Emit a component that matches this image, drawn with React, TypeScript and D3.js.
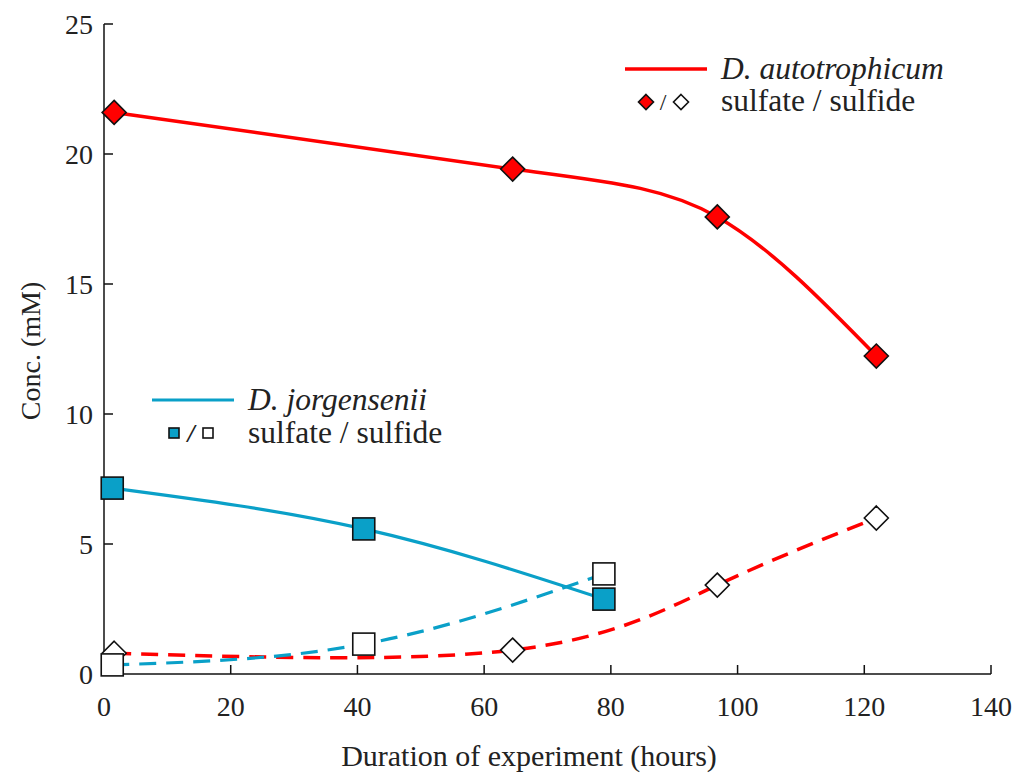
import React from "react";
import * as d3 from "d3";

const xTicks = [0, 20, 40, 60, 80, 100, 120, 140];
const yTicks = [0, 5, 10, 15, 20, 25];

const autoHours = [1.6, 64.5, 96.8, 121.9];
const autoSulfate = [21.6, 19.42, 17.58, 12.23];
const autoSulfide = [0.8, 0.92, 3.42, 6.0];

const jorgHours = [1.3, 41, 78.9];
const jorgSulfate = [7.15, 5.58, 2.88];
const jorgSulfide = [0.35, 1.15, 3.85];

const RED = "#ff0000";
const BLUE = "#0aa0c8";
const FONT = "'Liberation Serif', 'Times New Roman', serif";

export default function App() {
  const x = d3.scaleLinear().domain([0, 140]).range([104, 991]);
  const y = d3.scaleLinear().domain([0, 25]).range([674, 24]);
  const line = d3
    .line<[number, number]>()
    .x((d) => x(d[0]))
    .y((d) => y(d[1]))
    .curve(d3.curveNatural);
  const zip = (a: number[], b: number[]) => a.map((v, i) => [v, b[i]] as [number, number]);

  const diamond = (cx: number, cy: number, r: number, fill: string, key: string) => (
    <path
      key={key}
      d={`M${cx},${cy - r}L${cx + r},${cy}L${cx},${cy + r}L${cx - r},${cy}Z`}
      fill={fill}
      stroke="#111"
      strokeWidth={1.6}
    />
  );
  const square = (cx: number, cy: number, h: number, fill: string, key: string) => (
    <rect
      key={key}
      x={cx - h}
      y={cy - h}
      width={2 * h}
      height={2 * h}
      fill={fill}
      stroke="#111"
      strokeWidth={1.6}
    />
  );

  return (
    <svg
      width={1024}
      height={776}
      style={{ position: "absolute", left: 0, top: 0, background: "#fff" }}
      fontFamily={FONT}
    >
      {/* axes */}
      <line x1={x(0)} x2={x(0)} y1={y(25)} y2={y(0)} stroke="#111" strokeWidth={1.5} />
      <line x1={x(0)} x2={x(140)} y1={y(0)} y2={y(0)} stroke="#111" strokeWidth={1.5} />
      {yTicks.map((t) => (
        <g key={"yt" + t}>
          <line x1={x(0)} x2={x(0) + 9} y1={y(t)} y2={y(t)} stroke="#111" strokeWidth={1.5} />
          <text x={x(0) - 11} y={y(t)} dy="0.34em" textAnchor="end" fontSize={28} fill="#222">
            {t}
          </text>
        </g>
      ))}
      {xTicks.map((t) => (
        <g key={"xt" + t}>
          <line x1={x(t)} x2={x(t)} y1={y(0)} y2={y(0) - 9} stroke="#111" strokeWidth={1.5} />
          <text x={x(t)} y={y(0) + 42} textAnchor="middle" fontSize={28} fill="#222">
            {t}
          </text>
        </g>
      ))}
      <text
        transform={`translate(30,${351}) rotate(-90)`}
        textAnchor="middle"
        fontSize={28}
        fill="#222"
        dy="0.35em"
      >
        Conc. (mM)
      </text>
      <text x={529} y={766} textAnchor="middle" fontSize={30} fill="#222">
        Duration of experiment (hours)
      </text>

      {/* lines */}
      <path d={line(zip(autoHours, autoSulfate)) || ""} fill="none" stroke={RED} strokeWidth={3.5} />
      <path
        d={line(zip(autoHours, autoSulfide)) || ""}
        fill="none"
        stroke={RED}
        strokeWidth={3.5}
        strokeDasharray="17 10"
      />
      <path d={line(zip(jorgHours, jorgSulfate)) || ""} fill="none" stroke={BLUE} strokeWidth={3.2} />
      <path
        d={line(zip(jorgHours, jorgSulfide)) || ""}
        fill="none"
        stroke={BLUE}
        strokeWidth={3.2}
        strokeDasharray="17 10"
      />

      {/* markers */}
      {autoHours.map((h, i) => diamond(x(h), y(autoSulfide[i]), 12, "#fff", "ads" + i))}
      {autoHours.map((h, i) => diamond(x(h), y(autoSulfate[i]), 12, RED, "aas" + i))}
      {jorgHours.map((h, i) => square(x(h), y(jorgSulfide[i]), 11, "#fff", "jds" + i))}
      {jorgHours.map((h, i) => square(x(h), y(jorgSulfate[i]), 11, BLUE, "jas" + i))}

      {/* legend autotrophicum */}
      <line x1={625} x2={707} y1={69} y2={69} stroke={RED} strokeWidth={3.5} />
      <text x={721} y={79} fontSize={31.5} fontStyle="italic" fill="#222">
        D. autotrophicum
      </text>
      {diamond(646, 102, 7.5, RED, "lg1")}
      <text x={663} y={110} fontSize={24} fill="#222" textAnchor="middle">
        /
      </text>
      {diamond(681, 102, 7.5, "#fff", "lg2")}
      <text x={721} y={111} fontSize={31.5} fill="#222">
        sulfate / sulfide
      </text>

      {/* legend jorgensenii */}
      <line x1={152} x2={234} y1={400} y2={400} stroke={BLUE} strokeWidth={3.2} />
      <text x={248} y={410} fontSize={31.5} fontStyle="italic" fill="#222">
        D. jorgensenii
      </text>
      {square(174, 433, 5, BLUE, "lg3")}
      <text x={191} y={442} fontSize={26} fontWeight="bold" fontStyle="italic" fill="#222" textAnchor="middle">
        /
      </text>
      {square(208, 433, 5, "#fff", "lg4")}
      <text x={248} y={443} fontSize={31.5} fill="#222">
        sulfate / sulfide
      </text>
    </svg>
  );
}
